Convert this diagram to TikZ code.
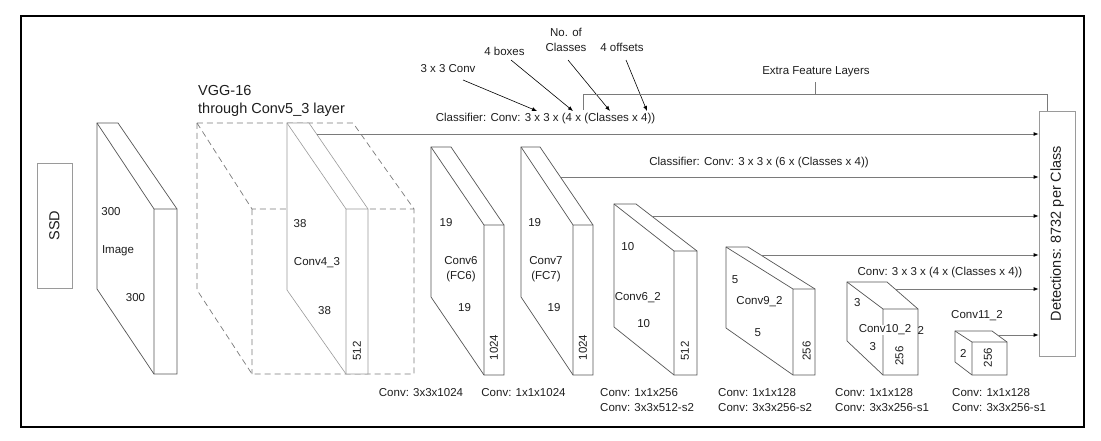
\documentclass[tikz,border=0pt]{standalone}
\usepackage{fontspec}
\setmainfont{Liberation Sans}
\usetikzlibrary{arrows.meta, positioning, calc}

\definecolor{edge}{HTML}{555555}
\definecolor{wire}{HTML}{7A7A7A}
\definecolor{faint}{HTML}{9A9A9A}
\definecolor{ink}{HTML}{1E1E1E}

% back-left x, back top, back bottom, back-right x, front x, front top, front bottom, front-right x
\newcommand{\drawslab}[9]{%
  \draw[#1] (#2,#3) -- (#2,#4) -- (#6,#8) -- (#9,#8) -- (#9,#7) -- (#5,#3) -- cycle;
  \draw[#1, fill=none] (#2,#3) -- (#6,#7) -- (#9,#7) (#6,#7) -- (#6,#8);
}

\begin{document}
\begin{tikzpicture}[
    x=1pt, y=-1pt,
    every node/.style={text=ink, font=\fontsize{11.5}{15}\selectfont, inner sep=1pt},
    big/.style={font=\fontsize{14.5}{18}\selectfont},
    layer/.style={draw=edge, line width=0.7pt, fill=white},
    vgglayer/.style={draw=faint, line width=0.6pt, fill=white},
    hidden/.style={draw=wire, dash pattern=on 6pt off 4pt, line width=0.7pt},
    sidebox/.style={draw=faint, line width=0.8pt, fill=white, inner sep=0pt},
    arrow/.style={draw=wire, line width=0.8pt, -{Latex[length=5pt, width=4pt, color=black]}},
    note/.style={draw=black, line width=0.6pt, -{Latex[length=5pt, width=4pt]}},
    bracket/.style={draw=wire, line width=0.8pt},
]
\useasboundingbox (0,0) rectangle (1101,441);
\draw[line width=2.5pt] (21,16) rectangle (1084,427);

% side boxes
\node[sidebox, big, minimum width=35pt, minimum height=125pt] (ssd) at (54.5,225.5) {\rotatebox{90}{SSD}};
\node[sidebox, big, minimum width=36pt, minimum height=245pt] (det) at (1057,233.5) {\rotatebox{90}{Detections: 8732 per Class}};

% layers
\drawslab{layer}{97}{123}{289}{118}{154}{209}{374}{177}
\drawslab{hidden}{197}{123}{290}{353}{252}{209}{374}{414}
\drawslab{vgglayer}{287}{123}{290}{309}{346}{209}{374}{368}
\drawslab{layer}{431}{147}{297}{451}{484}{225}{375}{504}
\drawslab{layer}{521}{147}{297}{540}{573}{225}{375}{593}
\drawslab{layer}{614}{204}{327}{636}{674}{251}{375}{697}
\drawslab{layer}{726}{247}{328}{748}{793}{289}{375}{815}
\drawslab{layer}{847}{282}{341}{887}{883}{309}{375}{918}
\drawslab{layer}{955}{331}{362}{992}{972}{342}{375}{1007}

% sizes inside the layers
\node (img-a) at (111,212) {300};
\node (img-n) at (118,251) {Image};
\node (img-b) at (135.5,298) {300};
\node[big, anchor=west, align=left] (vgg) at (197,101) {VGG-16\\through Conv5\_3 layer};
\node (c43-a) at (300,224) {38};
\node (c43-n) at (317,263) {Conv4\_3};
\node (c43-b) at (324.5,311) {38};
\node (c43-d) at (357,351) {\rotatebox{90}{512}};
\node (c6-a) at (446,223) {19};
\node[align=center] (c6-n) at (461,269) {Conv6\\(FC6)};
\node (c6-b) at (464.5,308) {19};
\node (c6-d) at (494,347.5) {\rotatebox{90}{1024}};
\node (c7-a) at (534.7,223) {19};
\node[align=center] (c7-n) at (546,269) {Conv7\\(FC7)};
\node (c7-b) at (554,308) {19};
\node (c7-d) at (583,347.5) {\rotatebox{90}{1024}};
\node (c62-a) at (627.8,247) {10};
\node (c62-n) at (637.8,298) {Conv6\_2};
\node (c62-b) at (643.7,324) {10};
\node (c62-d) at (685,350.8) {\rotatebox{90}{512}};
\node (c92-a) at (735,280) {5};
\node (c92-n) at (759.5,302) {Conv9\_2};
\node (c92-b) at (757.7,333) {5};
\node (c92-d) at (806.7,350.8) {\rotatebox{90}{256}};
\node (c102-a) at (857.3,302.7) {3};
\node[fill=white, inner sep=0pt] (c102-n) at (885,330) {Conv10\_2};
\node (c102-x) at (920.8,330) {2};
\node (c102-b) at (872.7,347) {3};
\node (c102-d) at (899.3,355.8) {\rotatebox{90}{256}};
\node (c112-n) at (977,316) {Conv11\_2};
\node (c112-a) at (963.3,353) {2};
\node (c112-d) at (988,357.5) {\rotatebox{90}{256}};

% classifiers
\node (cls4) at (545.5,119) {Classifier: Conv: 3 x 3 x (4 x (Classes x 4))};
\node (cls6) at (759,163) {Classifier: Conv: 3 x 3 x (6 x (Classes x 4))};
\node (cls10) at (940,273) {Conv: 3 x 3 x (4 x (Classes x 4))};

\coordinate (o4) at (316.5,134);
\coordinate (o7) at (560.4,177);
\coordinate (o62) at (651.6,216);
\coordinate (o92) at (760.8,255);
\coordinate (o102) at (895,289);
\coordinate (o112) at (997.5,335);
\foreach \o in {o4,o7,o62,o92,o102,o112}
  \draw[arrow] (\o) -- (det.west |- \o);

% notes on the classifier
\node (n-conv) at (448,69) {3 x 3 Conv};
\node (n-box) at (504.5,51) {4 boxes};
\node[align=center] (n-cls) at (566,39.5) {No. of\\Classes};
\node (n-off) at (622,47) {4 offsets};
\coordinate (t-conv) at (537,111);
\coordinate (t-box) at (573,111);
\coordinate (t-cls) at (610,111);
\coordinate (t-off) at (647,111);
\draw[note] (463,80) -- (t-conv);
\draw[note] (511,60) -- (t-box);
\draw[note] (568,60) -- (t-cls);
\draw[note] (626,60) -- (t-off);

% extra feature layers
\node (efl) at (816,72) {Extra Feature Layers};
\coordinate (brk) at (583,110);
\draw[bracket] (brk) -- (583,94) -| ([xshift=-10pt]det.north);
\draw[bracket] (815,94) -- (815,82);

% convolutions below
\node (b-c6) at (421,393) {Conv: 3x3x1024};
\node (b-c7) at (523.5,393) {Conv: 1x1x1024};
\node[anchor=west, align=left] (b-c62) at (599,400.5) {Conv: 1x1x256\\Conv: 3x3x512-s2};
\node[anchor=west, align=left] (b-c92) at (717,400.5) {Conv: 1x1x128\\Conv: 3x3x256-s2};
\node[anchor=west, align=left] (b-c102) at (834,400.5) {Conv: 1x1x128\\Conv: 3x3x256-s1};
\node[anchor=west, align=left] (b-c112) at (951,400.5) {Conv: 1x1x128\\Conv: 3x3x256-s1};

\end{tikzpicture}
\end{document}
